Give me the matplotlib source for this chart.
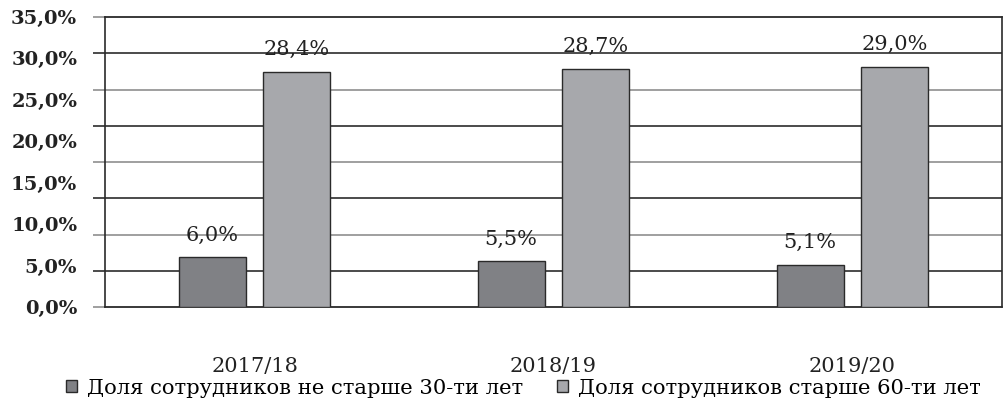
import matplotlib
matplotlib.use("Agg")
import matplotlib.pyplot as plt
from matplotlib.patches import Patch
import numpy as np

years = ["2017/18", "2018/19", "2019/20"]
young = [6.0, 5.5, 5.1]
old = [28.4, 28.7, 29.0]
young_labels = ["6,0%", "5,5%", "5,1%"]
old_labels = ["28,4%", "28,7%", "29,0%"]
series_names = ["Доля сотрудников не старше 30-ти лет",
                "Доля сотрудников старше 60-ти лет"]
yticks = [0, 5, 10, 15, 20, 25, 30, 35]

plt.rcParams['font.family'] = ['DejaVu Serif']

fig = plt.figure(figsize=(10.04, 4.08), dpi=100)
ax = fig.add_axes([0.1046, 0.2475, 0.8934, 0.7108])

x = np.arange(len(years))
w = 0.224
off = 0.142
ax.bar(x - off, young, w, color="#808185", edgecolor="#2a2a2a", linewidth=1.0, zorder=3)
ax.bar(x + off, old, w, color="#a7a8ac", edgecolor="#2a2a2a", linewidth=1.0, zorder=3)

for xi, v, s in zip(x, young, young_labels):
    ax.text(xi - off, v + 2.7, s, ha="center", va="center", fontsize=15, color="#222222", zorder=4)
for xi, v, s in zip(x, old, old_labels):
    ax.text(xi + off, v + 2.7, s, ha="center", va="center", fontsize=15, color="#222222", zorder=4)

ax.set_xlim(-0.5, 2.5)
ax.set_ylim(0, 35)

# horizontal rules (9 lines, alternating dark / grey)
grid_y = np.linspace(0, 35, 9)
for i, gy in enumerate(grid_y):
    c = "#1a1a1a" if i % 2 == 1 else "#858585"
    ax.hlines(gy, -0.0134, 1, transform=ax.get_yaxis_transform(), color=c,
              linewidth=1.1, clip_on=False, zorder=1)

ax.set_yticks(yticks)
ax.set_yticklabels([f"{t:.1f}%".replace(".", ",") for t in yticks],
                   fontsize=14, fontweight="bold", color="#222222")
ax.tick_params(axis="y", length=0, pad=20)
ax.set_xticks(x)
ax.set_xticklabels(years, fontsize=15, color="#222222")
ax.tick_params(axis="x", length=0, pad=36)

for sp in ax.spines.values():
    sp.set_color("#2a2a2a")
    sp.set_linewidth(1.2)

handles = [Patch(facecolor="#808185", edgecolor="#2a2a2a"),
           Patch(facecolor="#a7a8ac", edgecolor="#2a2a2a")]
fig.legend(handles, series_names, loc="center", bbox_to_anchor=(0.5214, 0.048),
           ncol=2, frameon=False, fontsize=15.2, handlelength=0.5, handleheight=0.5,
           handletextpad=0.5, columnspacing=1.6)

fig.savefig("out.png", dpi=100)
